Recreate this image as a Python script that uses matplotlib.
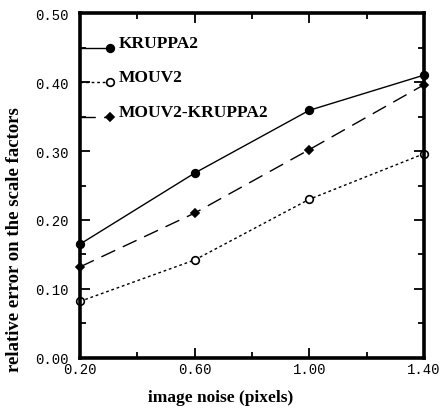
import numpy as np
import matplotlib.pyplot as plt

noise = [0.20, 0.60, 1.00, 1.40]
kruppa2 = [0.165, 0.268, 0.359, 0.410]
mouv2 = [0.082, 0.142, 0.230, 0.296]
mouv2_kruppa2 = [0.132, 0.210, 0.302, 0.396]

names = ['KRUPPA2', 'MOUV2', 'MOUV2-KRUPPA2']
legend_y = [0.45, 0.40, 0.35]

fig = plt.figure(figsize=(4.42, 4.14), dpi=100)
ax = fig.add_axes([0.181, 0.133, 0.778, 0.833])

styles = [
    dict(ls='-', marker='o', mfc='black', dashes=()),
    dict(ls='--', marker='o', mfc='white', dashes=(2, 2)),
    dict(ls='--', marker='D', mfc='black', dashes=(11, 6)),
]
series = [kruppa2, mouv2, mouv2_kruppa2]

for s, st, name, ly in zip(series, styles, names, legend_y):
    ms = 4.2 if st['marker'] == 'D' else 5.5
    kw = dict(color='black', lw=1.0, marker=st['marker'], mfc=st['mfc'],
              mec='black', ms=ms, mew=1.2, clip_on=False)
    if st['dashes']:
        kw['dashes'] = st['dashes']
    ax.plot(noise, s, **kw)
    # legend entry drawn by hand: line from the spine, marker at right end
    lkw = dict(kw)
    lkw['markevery'] = [1]
    ax.plot([0.2, 0.305], [ly, ly], **lkw)
    ax.text(0.335, ly + 0.007, name, fontsize=12.5, fontweight='bold',
            family='Liberation Serif', va='center', ha='left')

ax.set_xlim(0.2, 1.4)
ax.set_ylim(0.0, 0.5)
ax.set_xticks([0.2, 0.6, 1.0, 1.4])
ax.set_xticks([0.4, 0.8, 1.2], minor=True)
ax.set_yticks(np.arange(0, 0.51, 0.1))
ax.set_yticks(np.arange(0.05, 0.5, 0.1), minor=True)
ax.set_xticklabels(['%.2f' % v for v in [0.2, 0.6, 1.0, 1.4]],
                   family='Liberation Mono', fontsize=10)
ax.set_yticklabels(['%.2f' % v for v in np.arange(0, 0.51, 0.1)],
                   family='Liberation Mono', fontsize=10)
ax.tick_params(which='both', direction='in', top=True, right=True)
ax.tick_params(which='major', length=7, width=1.3)
ax.tick_params(which='minor', length=4, width=1.3)
ax.tick_params(axis='y', pad=8)
ax.tick_params(axis='x', pad=3)

for sp in ax.spines.values():
    sp.set_linewidth(2.6)

ax.set_xlabel('image noise (pixels)', family='Liberation Serif',
              fontweight='bold', fontsize=12.5)
ax.set_ylabel('relative error on the scale factors', family='Liberation Serif',
              fontweight='bold', fontsize=13.5)
ax.xaxis.set_label_coords(0.41, -0.09)
ax.yaxis.set_label_coords(-0.166, 0.345)

fig.savefig('out.png', dpi=100)
